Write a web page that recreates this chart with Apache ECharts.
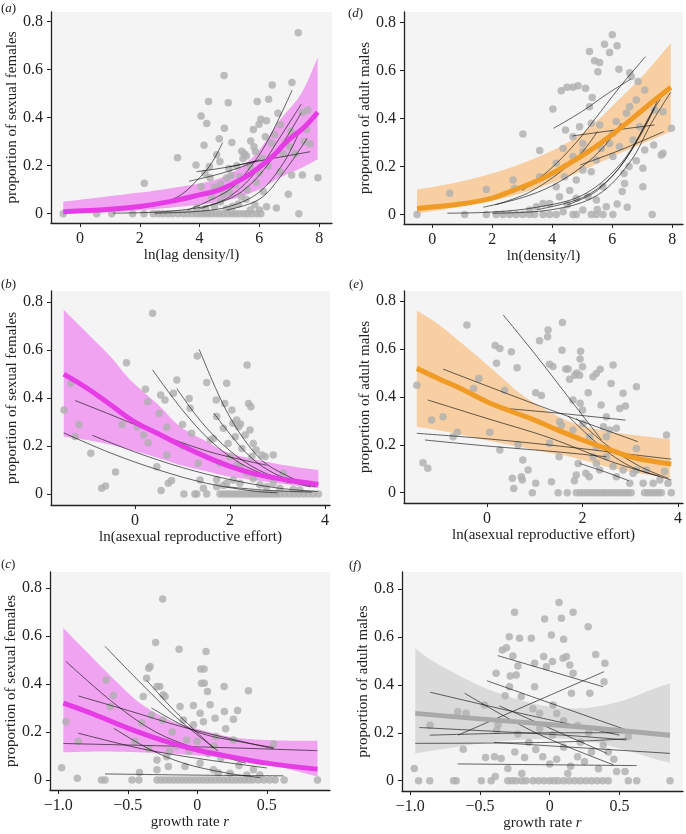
<!DOCTYPE html>
<html><head><meta charset="utf-8">
<script src="https://cdn.jsdelivr.net/npm/echarts@6/dist/echarts.min.js"></script>
<style>html,body{margin:0;padding:0;background:#fff}#c{width:686px;height:834px}</style>
</head><body><div id="c"></div>
<script>
// ---------- tick labels ----------
const yTicks = [0, 0.2, 0.4, 0.6, 0.8];
const densityTicks = [0, 2, 4, 6, 8];
const effortTicks = [0, 2, 4];
const growthTicks = [-1, -0.5, 0, 0.5];

// ---------- panel (a) ----------
const aPoints = [[-0.56,0],[0.56,0],[1.06,0],[1.76,0],[2.14,0],[2.45,0],[2.62,0],[2.78,0],[2.95,0],[3.1,0],[3.28,0],[3.45,0],[3.6,0],[3.75,0],[3.9,0],[4.02,0],[4.15,0],[4.28,0],[4.4,0],[4.55,0],[4.68,0],[4.8,0],[4.95,0],[5.08,0],[5.2,0],[5.33,0],[5.48,0],[5.6,0],[5.75,0],[5.92,0],[6.05,0],[7.32,0],
[3.9,0.025],[4.2,0.02],[4.5,0.03],[4.7,0.05],[4.9,0.02],[5.1,0.03],[5.3,0.04],[5.55,0.06],[5.7,0.015],[5.85,0.037],[6.0,0.015],[6.24,0.029],[6.57,0.024],[4.4,0.07],[4.8,0.08],[5.0,0.09],[5.4,0.07],[5.6,0.1],
[2.15,0.127],[3.26,0.233],[3.88,0.203],[4.05,0.407],[4.24,0.375],[4.15,0.285],[4.30,0.467],[4.82,0.575],[4.96,0.462],[4.83,0.356],[4.66,0.312],[5.08,0.296],[5.93,0.467],[6.31,0.477],[6.43,0.536],[7.09,0.546],[7.30,0.754],[6.05,0.393],[6.24,0.387],[5.99,0.372],[6.62,0.418],[7.62,0.432],[7.45,0.421],[7.58,0.35],[7.69,0.29],[7.06,0.342],[6.41,0.293],[5.71,0.303],[5.82,0.279],[5.41,0.26],[5.5,0.25],[5.57,0.24],[5.45,0.23],[5.87,0.258],[4.57,0.245],[4.68,0.217],[4.33,0.196],[4.98,0.188],[5.05,0.16],[4.9,0.148],[5.35,0.154],[4.05,0.112],[4.18,0.168],[5.69,0.196],[6.13,0.092],[7.08,0.161],[7.44,0.161],[7.96,0.15],[6.97,0.081],[6.69,0.175],[4.5,0.11],[4.7,0.125],[5.2,0.12],[5.9,0.13],[6.3,0.2],[6.8,0.25],[7.0,0.28],[6.5,0.33],[6.7,0.37],[5.25,0.2],[6.0,0.17],[4.35,0.15],[6.1,0.23],[7.2,0.25],[6.9,0.3],[7.5,0.3],[6.2,0.32],[5.8,0.35]];
const aMean = [[-0.56,0.008],[1,0.018],[2,0.03],[3,0.05],[4,0.078],[4.68,0.1],[5.5,0.15],[6.02,0.195],[6.5,0.245],[6.91,0.3],[7.5,0.36],[7.95,0.4225]];
const aBandX = [-0.56,1.34,3,4.68,5.8,6.69,7.4,7.95];
const aBandUp = [0.05,0.078,0.105,0.1475,0.2375,0.39,0.5,0.65];
const aBandLo = [0.001,0.008,0.025,0.0495,0.09,0.15,0.19,0.2265];
const aLines = [
 [[2.8,0.045],[3.4,0.08],[4.0,0.15],[4.4,0.21],[4.77,0.296]],
 [[3.9,0.175],[4.5,0.185],[5.2,0.2],[5.9,0.22]],
 [[3.65,0.135],[4.5,0.16],[5.3,0.19],[6.0,0.225]],
 [[5.0,0.195],[6.0,0.22],[6.9,0.24],[7.7,0.258]],
 [[3.6,0.015],[5.0,0.1],[5.8,0.21],[6.35,0.32],[7.1,0.515]],
 [[4.0,0.02],[5.0,0.07],[6.0,0.19],[6.7,0.32],[7.4,0.456]],
 [[1.1,0.002],[3.0,0.01],[4.5,0.04],[5.5,0.1],[6.5,0.24],[7.4,0.42]],
 [[4.9,0.015],[6.0,0.06],[6.8,0.17],[7.6,0.314]],
 [[2.5,0.002],[4.0,0.01],[5.0,0.03],[6.0,0.09],[6.8,0.21],[7.3,0.33]]
];

// ---------- panel (d) ----------
const dPoints = [[-0.51,0],[1.08,0],[1.8,0],[2.13,0],[2.36,0],[2.58,0],[2.8,0],[3.02,0],[3.24,0],[3.41,0],[3.69,0],[3.91,0],[4.13,0],[4.69,0],[4.8,0],[5.3,0],[5.47,0],[5.69,0],[6.02,0],[7.33,0],
[0.58,0.088],[1.8,0.104],[2.69,0.143],[2.74,0.109],[3.02,0.335],[3.58,0.266],[3.58,0.157],[4.02,0.44],[4.3,0.516],[4.49,0.53],[4.69,0.53],[4.86,0.536],[5.11,0.526],[5.33,0.488],[5.24,0.679],[5.41,0.641],[5.58,0.633],[5.52,0.595],[5.74,0.71],[6.0,0.749],[5.91,0.675],[6.16,0.703],[6.22,0.605],[6.58,0.591],[6.63,0.575],[6.86,0.554],[7.08,0.519],[7.41,0.435],[7.69,0.428],[7.97,0.359],[7.63,0.248],[7.38,0.289],[7.08,0.269],[7.02,0.192],[6.8,0.224],[6.56,0.2],[6.39,0.171],[6.33,0.095],[6.41,0.129],[6.16,0.043],[5.8,0.032],[5.02,0.018],[4.36,0.011],[3.91,0.046],[4.24,0.074],[4.58,0.1],[4.8,0.067],[5.19,0.074],[5.47,0.06],[5.69,0.115],[4.8,0.143],[5.02,0.185],[5.3,0.178],[5.47,0.227],[6.02,0.241],[5.63,0.275],[5.91,0.296],[4.69,0.324],[4.91,0.366],[5.3,0.38],[5.58,0.373],[4.44,0.352],[4.36,0.275],[4.13,0.213],[4.69,0.241],[5.02,0.262],[6.13,0.387],[6.47,0.422],[6.58,0.449],[6.91,0.366],[6.69,0.31],[6.24,0.282],[6.8,0.477],[6.02,0.338],[5.02,0.296],[5.24,0.449],[3.24,0.018],[3.47,0.032],[3.69,0.046],[4.13,0.115],[4.41,0.157],[7.02,0.115],[7.69,0.255],[4.5,0.04],[5.5,0.02],[6.5,0.03]];
const dMean = [[-0.51,0.025],[0.92,0.043],[2.0,0.068],[2.59,0.095],[3.5,0.14],[4.26,0.19],[5.3,0.27],[6.26,0.359],[7.1,0.445],[7.95,0.53]];
const dBandX = [-0.51,0.92,2.6,4.26,5.3,6.26,7.1,7.95];
const dBandUp = [0.104,0.136,0.195,0.282,0.37,0.484,0.59,0.714];
const dBandLo = [0.004,0.032,0.075,0.143,0.2,0.255,0.3,0.345];
const dLines = [
 [[4.04,0.359],[5.0,0.43],[5.8,0.5],[6.63,0.565]],
 [[4.67,0.327],[6.0,0.35],[7.41,0.373]],
 [[4.93,0.206],[6.3,0.27],[7.71,0.345]],
 [[3.0,0.1],[3.9,0.185],[4.8,0.3],[5.4,0.394],[6.26,0.533],[7.11,0.658]],
 [[2.1,0.04],[3.2,0.09],[4.3,0.18],[5.0,0.26],[5.5,0.345]],
 [[1.7,0.03],[3.0,0.07],[4.0,0.12],[5.0,0.2],[5.7,0.28],[6.3,0.38]],
 [[0.5,0.005],[2,0.01],[3.5,0.03],[5,0.08],[6.2,0.2],[7.0,0.35],[7.6,0.5]],
 [[2,0.005],[4,0.02],[5.5,0.08],[6.6,0.22],[7.3,0.38],[7.95,0.51]],
 [[4.5,0.04],[5.5,0.1],[6.5,0.24],[7.2,0.4],[7.6,0.48]],
 [[3.5,0.02],[5,0.07],[6,0.16],[6.8,0.3],[7.4,0.44]]
];

// ---------- panel (b) ----------
const bPoints = [[1.03,0],[1.26,0],[1.3,0],[1.51,0],[1.79,0],[1.86,0],[1.93,0],[2.0,0],[2.07,0],[2.14,0],[2.21,0],[2.28,0],[2.35,0],[2.42,0],[2.49,0],[2.56,0],[2.63,0],[2.7,0],[2.77,0],[2.84,0],[2.91,0],[2.98,0],[3.05,0],[3.15,0],[3.25,0],[3.35,0],[3.45,0],[3.55,0],[3.65,0],[3.75,0],[3.86,0],
[-1.495,0.35],[-1.35,0.462],[-1.18,0.29],[-1.26,0.24],[-0.93,0.17],[-0.7,0.024],[-0.62,0.033],[-0.41,0.092],[-0.27,0.29],[-0.18,0.548],[0.05,0.281],[0.18,0.246],[0.22,0.437],[0.27,0.385],[0.37,0.754],[0.28,0.214],[0.54,0.413],[0.63,0.392],[0.51,0.337],[0.46,0.114],[0.55,0.014],[0.67,0.278],[0.67,0.163],[0.7,0.045],[0.77,0.056],[0.88,0.476],[0.81,0.42],[1.0,0.29],[1.0,0.2],[1.14,0.398],[1.16,0.358],[1.19,0.253],[1.31,0.576],[1.33,0.128],[1.37,0.058],[1.44,0.024],[1.51,0.465],[1.59,0.225],[1.65,0.232],[1.71,0.392],[1.72,0.323],[1.79,0.128],[1.86,0.274],[1.89,0.378],[1.93,0.462],[1.96,0.211],[2.0,0.156],[2.04,0.35],[2.06,0.295],[2.11,0.239],[2.14,0.309],[2.18,0.281],[2.21,0.114],[2.22,0.292],[2.25,0.19],[2.32,0.246],[2.36,0.538],[2.39,0.378],[2.44,0.364],[2.42,0.267],[2.46,0.156],[2.49,0.211],[2.55,0.184],[2.67,0.163],[2.74,0.156],[2.91,0.163],[3.12,0.086],[3.19,0.058],[1.72,0.06],[1.86,0.035],[2.07,0.058],[2.21,0.045],[2.35,0.086],[2.49,0.065],[2.63,0.038],[2.77,0.03],[2.91,0.045],[3.05,0.024],[3.33,0.02],[3.47,0.017],[2.14,0.121],[1.72,0.03],[1.93,0.045]];
const bMean = [[-1.5,0.5],[-1,0.44],[-0.5,0.37],[0,0.3],[0.5,0.25],[1,0.2],[1.5,0.155],[2,0.115],[2.5,0.085],[3,0.065],[3.5,0.05],[3.86,0.04]];
const bBandX = [-1.5,-1,-0.5,-0.1,0.5,0.95,1.5,2.0,3.0,3.86];
const bBandUp = [0.768,0.67,0.57,0.476,0.37,0.281,0.22,0.17,0.125,0.1];
const bBandLo = [0.239,0.225,0.205,0.184,0.15,0.121,0.095,0.072,0.045,0.024];
const bLines = [
 [[-1.5,0.255],[-0.5,0.17],[0.5,0.1],[1.5,0.045],[2.5,0.012],[3.0,0.005]],
 [[-0.9,0.245],[0,0.175],[1,0.11],[2,0.06],[3,0.025],[3.85,0.01]],
 [[-1.26,0.39],[-0.5,0.33],[0.5,0.25],[1.5,0.18],[2.2,0.145],[2.77,0.12]],
 [[0.37,0.518],[1.0,0.35],[1.6,0.22],[2.2,0.13],[2.8,0.075],[3.3,0.045]],
 [[0.88,0.44],[1.4,0.3],[2.0,0.18],[2.6,0.1],[3.2,0.055],[3.7,0.03]],
 [[1.35,0.604],[1.7,0.44],[2.0,0.32],[2.4,0.2],[2.8,0.12],[3.6,0.04]],
 [[1.66,0.337],[2.0,0.25],[2.4,0.16],[2.8,0.1],[3.3,0.055],[3.8,0.03]],
 [[1.93,0.03],[2.8,0.015],[3.72,0.008]]
];

// ---------- panel (e) ----------
const ePoints = [[0.95,0],[1.49,0],[1.68,0],[1.87,0],[1.95,0],[2.02,0],[2.1,0],[2.17,0],[2.24,0],[2.31,0],[2.38,0],[2.45,0],[2.52,0],[2.6,0],[2.67,0],[2.74,0],[2.81,0],[2.88,0],[2.95,0],[3.02,0],[3.3,0],[3.37,0],[3.44,0],[3.51,0],[3.58,0],[3.65,0],[3.86,0],
[-1.47,0.449],[-1.34,0.125],[-1.24,0.102],[-1.16,0.303],[-0.92,0.317],[-0.71,0.234],[-0.62,0.252],[-0.42,0.7],[-0.28,0.435],[-0.17,0.477],[0.06,0.252],[0.17,0.614],[0.27,0.602],[0.27,0.178],[0.2,0.54],[0.37,0.428],[0.51,0.588],[0.53,0.06],[0.56,0.018],[0.63,0.522],[0.65,0.2],[0.72,0.067],[0.74,0.053],[0.75,0.136],[0.86,0.095],[1.02,0.039],[1.02,0.417],[1.14,0.406],[1.1,0.634],[1.27,0.651],[1.28,0.679],[1.31,0.536],[1.35,0.046],[1.38,0.527],[1.51,0.15],[1.56,0.282],[1.57,0.595],[1.58,0.711],[1.65,0.516],[1.7,0.516],[1.73,0.474],[1.8,0.387],[1.84,0.49],[1.88,0.5],[1.94,0.49],[1.95,0.558],[1.96,0.591],[2.0,0.526],[1.95,0.373],[2.0,0.345],[2.01,0.289],[1.91,0.122],[1.87,0.074],[1.83,0.05],[2.07,0.081],[2.14,0.067],[2.12,0.417],[2.22,0.484],[2.29,0.498],[2.37,0.515],[2.39,0.366],[2.44,0.275],[2.5,0.234],[2.57,0.262],[2.6,0.456],[2.64,0.533],[2.71,0.269],[2.78,0.352],[2.85,0.415],[2.9,0.362],[3.13,0.442],[3.13,0.185],[3.13,0.095],[3.27,0.039],[3.76,0.241],[3.72,0.088],[3.79,0.039],[2.22,0.15],[2.29,0.122],[2.36,0.095],[2.5,0.15],[2.64,0.109],[2.71,0.067],[2.85,0.095],[2.99,0.039],[3.06,0.081],[3.34,0.095],[3.48,0.039],[3.62,0.053],[2.29,0.192],[2.15,0.234],[2.5,0.317],[1.31,0.206],[1.52,0.296],[1.8,0.262]];
const eMean = [[-1.47,0.519],[-1,0.475],[-0.5,0.43],[0,0.38],[0.5,0.34],[1,0.303],[1.5,0.26],[2,0.22],[2.5,0.185],[3,0.15],[3.5,0.13],[3.86,0.12]];
const eBandX = [-1.47,-1,-0.36,0.2,0.69,1.2,1.74,2.3,2.79,3.83];
const eBandUp = [0.76,0.7,0.596,0.5,0.415,0.35,0.296,0.265,0.248,0.223];
const eBandLo = [0.275,0.26,0.234,0.21,0.192,0.17,0.15,0.12,0.095,0.06];
const eLines = [
 [[0.34,0.742],[1.0,0.58],[1.7,0.4],[2.4,0.22]],
 [[-0.92,0.516],[1,0.37],[3.16,0.213]],
 [[-1.24,0.387],[0,0.31],[1.3,0.23],[2.6,0.13],[3.86,0.053]],
 [[0.37,0.352],[1.6,0.33],[2.9,0.303]],
 [[-1.47,0.248],[0,0.225],[1.5,0.195],[3,0.16],[3.86,0.14]],
 [[-1.3,0.22],[0,0.195],[1.5,0.17],[2.5,0.15]],
 [[1.94,0.122],[2.5,0.085],[2.97,0.05]],
 [[1.87,0.31],[2.5,0.2],[3.2,0.11],[3.8,0.06]],
 [[1.7,0.32],[2.4,0.19],[3.0,0.11],[3.6,0.07]]
];

// ---------- panel (c) ----------
const cPoints = [[-0.69,0],[-0.664,0],[-0.47,0],[-0.42,0],[-0.29,0],[-0.26,0],[-0.23,0],[-0.2,0],[-0.17,0],[-0.14,0],[-0.11,0],[-0.08,0],[-0.05,0],[-0.02,0],[0.01,0],[0.04,0],[0.07,0],[0.1,0],[0.13,0],[0.16,0],[0.19,0],[0.22,0],[0.25,0],[0.28,0],[0.31,0],[0.34,0],[0.37,0],[0.4,0],[0.44,0],[0.48,0],[0.52,0],[0.56,0],[0.625,0],[0.865,0],
[-0.976,0.051],[-0.945,0.243],[-0.856,0.16],[-0.863,0.007],[-0.656,0.417],[-0.604,0.352],[-0.627,0.306],[-0.448,0.16],[-0.416,0.031],[-0.4,0.237],[-0.389,0.348],[-0.365,0.424],[-0.35,0.466],[-0.34,0.473],[-0.3,0.573],[-0.29,0.39],[-0.27,0.39],[-0.249,0.754],[-0.249,0.25],[-0.245,0.355],[-0.232,0.348],[-0.22,0.097],[-0.131,0.545],[-0.124,0.306],[-0.028,0.31],[0.025,0.463],[0.049,0.463],[0.03,0.403],[0.05,0.403],[0.063,0.536],[0.073,0.369],[0.02,0.278],[0.044,0.243],[-0.028,0.23],[0.092,0.313],[0.128,0.257],[0.133,0.181],[0.193,0.39],[0.195,0.285],[0.204,0.213],[0.26,0.253],[0.29,0.29],[0.368,0.372],[0.548,0.15],[0.26,0.167],[-0.076,0.167],[-0.29,0.083],[-0.208,0.056],[-0.088,0.056],[0.02,0.07],[0.116,0.042],[0.236,0.028],[0.356,0.021],[0.404,0.042],[0.45,0.021],[-0.29,0.042],[-0.18,0.2],[-0.15,0.14],[-0.1,0.25],[-0.06,0.12],[0.0,0.16],[0.08,0.11],[0.12,0.14],[0.17,0.09],[-0.2,0.12],[-0.35,0.13],[-0.33,0.27],[0.3,0.06],[0.15,0.03]];
const cMean = [[-0.964,0.32],[-0.75,0.275],[-0.5,0.216],[-0.25,0.165],[0,0.125],[0.25,0.095],[0.5,0.07],[0.865,0.045]];
const cBandX = [-0.964,-0.772,-0.6,-0.412,-0.2,-0.053,0.15,0.307,0.55,0.865];
const cBandUp = [0.633,0.52,0.42,0.32,0.25,0.222,0.19,0.174,0.165,0.163];
const cBandLo = [0.115,0.118,0.118,0.115,0.11,0.104,0.095,0.083,0.06,0.014];
const cLines = [
 [[-0.664,0.557],[-0.4,0.4],[-0.15,0.26],[0.15,0.12]],
 [[-0.945,0.494],[-0.6,0.32],[-0.3,0.2],[0,0.13],[0.35,0.07]],
 [[-0.856,0.35],[-0.5,0.29],[-0.1,0.22],[0.25,0.17],[0.55,0.13]],
 [[-0.964,0.152],[0,0.138],[0.865,0.122]],
 [[-0.856,0.195],[-0.4,0.13],[0,0.09],[0.5,0.05]],
 [[-0.6,0.215],[-0.35,0.13],[-0.1,0.07],[0.2,0.03],[0.45,0.01]],
 [[-0.664,0.025],[0,0.02],[0.62,0.017]],
 [[-0.364,0.415],[-0.15,0.28],[0.115,0.135]],
 [[-0.33,0.3],[0,0.2],[0.3,0.16],[0.55,0.135]]
];

// ---------- panel (f) ----------
const fPoints = [[-0.94,0],[-0.86,0],[-0.69,0],[-0.67,0],[-0.49,0],[-0.42,0],[-0.3,0],[-0.27,0],[-0.24,0],[-0.2,0],[-0.17,0],[-0.12,0],[-0.08,0],[-0.04,0],[0,0],[0.03,0],[0.06,0],[0.1,0],[0.14,0],[0.18,0],[0.22,0],[0.26,0],[0.3,0],[0.34,0],[0.38,0],[0.42,0],[0.564,0],[0.624,0],[0.863,0],
[-0.971,0.051],[-0.858,0.231],[-0.66,0.288],[-0.6,0.281],[-0.62,0.131],[-0.46,0.097],[-0.468,0.316],[-0.39,0.018],[-0.396,0.1],[-0.384,0.448],[-0.38,0.211],[-0.37,0.234],[-0.348,0.093],[-0.34,0.545],[-0.32,0.355],[-0.31,0.555],[-0.29,0.601],[-0.264,0.52],[-0.252,0.703],[-0.283,0.437],[-0.288,0.392],[-0.3,0.051],[-0.24,0.441],[-0.228,0.479],[-0.216,0.594],[-0.228,0.195],[-0.204,0.351],[-0.18,0.097],[-0.132,0.594],[-0.108,0.392],[-0.108,0.49],[-0.072,0.281],[-0.072,0.218],[-0.036,0.675],[-0.043,0.518],[-0.024,0.476],[0.012,0.608],[0.02,0.497],[0.024,0.316],[0.02,0.191],[0.067,0.744],[0.084,0.678],[0.1,0.59],[0.096,0.511],[0.12,0.518],[0.144,0.483],[0.168,0.703],[0.156,0.365],[0.168,0.448],[0.276,0.643],[0.288,0.365],[0.33,0.527],[0.396,0.49],[0.39,0.413],[0.384,0.149],[0.42,0.12],[0.46,0.09],[0.48,0.038],[0.54,0.038],[0.564,0.184],[0.05,0.28],[0.1,0.25],[0.2,0.23],[-0.15,0.16],[-0.1,0.13],[-0.05,0.1],[0.0,0.07],[0.05,0.09],[0.1,0.14],[0.15,0.06],[0.2,0.1],[0.25,0.08],[0.3,0.12],[0.35,0.05],[-0.25,0.12],[-0.2,0.03],[0.13,0.03],[-0.12,0.3],[0.22,0.16],[0.28,0.2]];
const fMean = [[-0.964,0.281],[-0.5,0.258],[0,0.235],[0.5,0.21],[0.863,0.19]];
const fBandX = [-0.964,-0.79,-0.43,-0.07,0.218,0.5,0.758,0.863];
const fBandUp = [0.552,0.483,0.379,0.316,0.302,0.33,0.386,0.406];
const fBandLo = [0.114,0.13,0.16,0.175,0.17,0.135,0.09,0.075];
const fLines = [
 [[-0.372,0.522],[0.384,0.392]],
 [[-0.45,0.417],[0.564,0.209]],
 [[-0.856,0.369],[-0.2,0.28],[0.5,0.19]],
 [[-0.61,0.365],[-0.1,0.2],[0.458,0.066]],
 [[-0.36,0.312],[0.41,0.114]],
 [[-0.657,0.19],[0.39,0.455]],
 [[-0.935,0.222],[0.1,0.19],[0.55,0.17]],
 [[-0.86,0.19],[0.0,0.2],[0.55,0.2]],
 [[-0.964,0.156],[0,0.16],[0.55,0.175]],
 [[-0.4,0.16],[0.863,0.114]],
 [[-0.66,0.07],[0.624,0.063]]
];

// ---------- rendering ----------
const FONT = '"Liberation Serif","DejaVu Serif",serif';
const fmtY = v => Math.abs(v) < 1e-9 ? '0' : v.toFixed(1);
const fmtInt = v => String(Math.round(v));
const fmtGrowth = v => Math.abs(v) < 1e-9 ? '0' : (v < 0 ? '\u2212' : '') + Math.abs(v).toFixed(1);

const panels = [
 {lab:'a', lx:1, ly:2, grid:{left:51,top:12,width:281,height:211}, xr:[-0.97,8.43], yr:[-0.039,0.84], xt:densityTicks, xf:fmtInt, xname:'ln(lag density/l)', yname:'proportion of sexual females', pts:aPoints, mean:aMean, bx:aBandX, bu:aBandUp, bl:aBandLo, lines:aLines, bandC:'#f0a3f0', lineC:'#e53ce5'},
 {lab:'d', lx:348, ly:7, grid:{left:404,top:12,width:279,height:212}, xr:[-0.943,8.357], yr:[-0.04,0.844], xt:densityTicks, xf:fmtInt, xname:'ln(density/l)', yname:'proportion of adult males', pts:dPoints, mean:dMean, bx:dBandX, bu:dBandUp, bl:dBandLo, lines:dLines, bandC:'#f7cfa2', lineC:'#f09b26'},
 {lab:'b', lx:1, ly:278, grid:{left:51,top:291,width:279,height:214}, xr:[-1.768,4.105], yr:[-0.046,0.847], xt:effortTicks, xf:fmtInt, xname:'ln(asexual reproductive effort)', yname:'proportion of sexual females', pts:bPoints, mean:bMean, bx:bBandX, bu:bBandUp, bl:bBandLo, lines:bLines, bandC:'#f0a3f0', lineC:'#e53ce5'},
 {lab:'e', lx:349, ly:278, grid:{left:404,top:291,width:279,height:212}, xr:[-1.738,4.105], yr:[-0.043,0.842], xt:effortTicks, xf:fmtInt, xname:'ln(asexual reproductive effort)', yname:'proportion of adult males', pts:ePoints, mean:eMean, bx:eBandX, bu:eBandUp, bl:eBandLo, lines:eLines, bandC:'#f7cfa2', lineC:'#f09b26'},
 {lab:'c', lx:1, ly:558, grid:{left:50,top:572,width:280,height:218}, xr:[-1.06,0.955], yr:[-0.042,0.867], xt:growthTicks, xf:fmtGrowth, xname:'{n|growth rate }{i|r}', yname:'proportion of sexual females', pts:cPoints, mean:cMean, bx:cBandX, bu:cBandUp, bl:cBandLo, lines:cLines, bandC:'#f0a3f0', lineC:'#e53ce5'},
 {lab:'f', lx:349, ly:559, grid:{left:402,top:572,width:281,height:219}, xr:[-1.059,0.956], yr:[-0.043,0.871], xt:growthTicks, xf:fmtGrowth, xname:'{n|growth rate }{i|r}', yname:'proportion of adult males', pts:fPoints, mean:fMean, bx:fBandX, bu:fBandUp, bl:fBandLo, lines:fLines, bandC:'#dadada', lineC:'#a9a9a9'}
];

function spline(p){
  const out=[]; const n=p.length; const S=12;
  for(let i=0;i<n-1;i++){
    const p0=p[Math.max(i-1,0)], p1=p[i], p2=p[i+1], p3=p[Math.min(i+2,n-1)];
    for(let s=0;s<S;s++){
      const t=s/S, t2=t*t, t3=t2*t;
      const f=k=>0.5*((2*p1[k])+(-p0[k]+p2[k])*t+(2*p0[k]-5*p1[k]+4*p2[k]-p3[k])*t2+(-p0[k]+3*p1[k]-3*p2[k]+p3[k])*t3);
      out.push([f(0),f(1)]);
    }
  }
  out.push(p[n-1]);
  return out;
}

const axisColor = '#222';
const grids=[], xAxes=[], yAxes=[], series=[], graphics=[];
panels.forEach((P,i)=>{
  grids.push(Object.assign({show:true, backgroundColor:'#f4f4f4', borderWidth:0, containLabel:false}, P.grid));
  xAxes.push({type:'value', gridIndex:i, min:P.xr[0], max:P.xr[1],
    axisLine:{show:true, onZero:false, lineStyle:{color:axisColor, width:1.3}},
    axisTick:{show:true, customValues:P.xt, length:4, lineStyle:{color:axisColor, width:1}},
    axisLabel:{customValues:P.xt, formatter:P.xf, fontFamily:FONT, fontSize:16, color:axisColor, margin:8},
    splitLine:{show:false},
    name:P.xname, nameLocation:'middle', nameGap:25,
    nameTextStyle:{fontFamily:FONT, fontSize:15, color:axisColor,
      rich:{n:{fontFamily:FONT,fontSize:15,color:axisColor}, i:{fontFamily:FONT,fontSize:15,fontStyle:'italic',color:axisColor}}}
  });
  yAxes.push({type:'value', gridIndex:i, min:P.yr[0], max:P.yr[1],
    axisLine:{show:true, onZero:false, lineStyle:{color:axisColor, width:1.3}},
    axisTick:{show:true, customValues:yTicks, length:4, lineStyle:{color:axisColor, width:1}},
    axisLabel:{customValues:yTicks, formatter:fmtY, fontFamily:FONT, fontSize:16, color:axisColor, margin:8},
    splitLine:{show:false},
    name:P.yname, nameLocation:'middle', nameGap:30,
    nameTextStyle:{fontFamily:FONT, fontSize:15, color:axisColor}
  });
  // confidence band
  series.push({type:'custom', xAxisIndex:i, yAxisIndex:i, silent:true, z:1,
    data:[[P.bx[0], P.bu[0]]],
    renderItem:function(params, api){
      const up=P.bx.map((x,k)=>api.coord([x,P.bu[k]]));
      const lo=P.bx.map((x,k)=>api.coord([x,P.bl[k]]));
      const pts=spline(up).concat(spline(lo).reverse());
      return {type:'polygon', shape:{points:pts}, style:{fill:P.bandC}};
    }});
  // observations
  series.push({type:'scatter', xAxisIndex:i, yAxisIndex:i, silent:true, z:2,
    data:P.pts, symbolSize:7.5, itemStyle:{color:'#b0b0b0', opacity:0.82}});
  // individual population fits
  P.lines.forEach(l=>{
    series.push({type:'line', xAxisIndex:i, yAxisIndex:i, silent:true, z:3,
      data:l, smooth:0.35, symbol:'none', lineStyle:{color:'#111', width:0.9, opacity:0.72}});
  });
  // mean fit
  series.push({type:'line', xAxisIndex:i, yAxisIndex:i, silent:true, z:4,
    data:P.mean, smooth:0.4, symbol:'none', lineStyle:{color:P.lineC, width:5}});
  graphics.push({type:'text', left:P.lx, top:P.ly, silent:true,
    style:{text:'{p|(}{i|'+P.lab+'}{p|)}', rich:{p:{fontFamily:FONT,fontSize:13,fill:'#222'}, i:{fontFamily:FONT,fontSize:13,fontStyle:'italic',fill:'#222'}}}});
});

const chart = echarts.init(document.getElementById('c'), null, {renderer:'canvas'});
chart.setOption({animation:false, backgroundColor:'#ffffff', grid:grids, xAxis:xAxes, yAxis:yAxes, series:series, graphic:graphics});
</script></body></html>
